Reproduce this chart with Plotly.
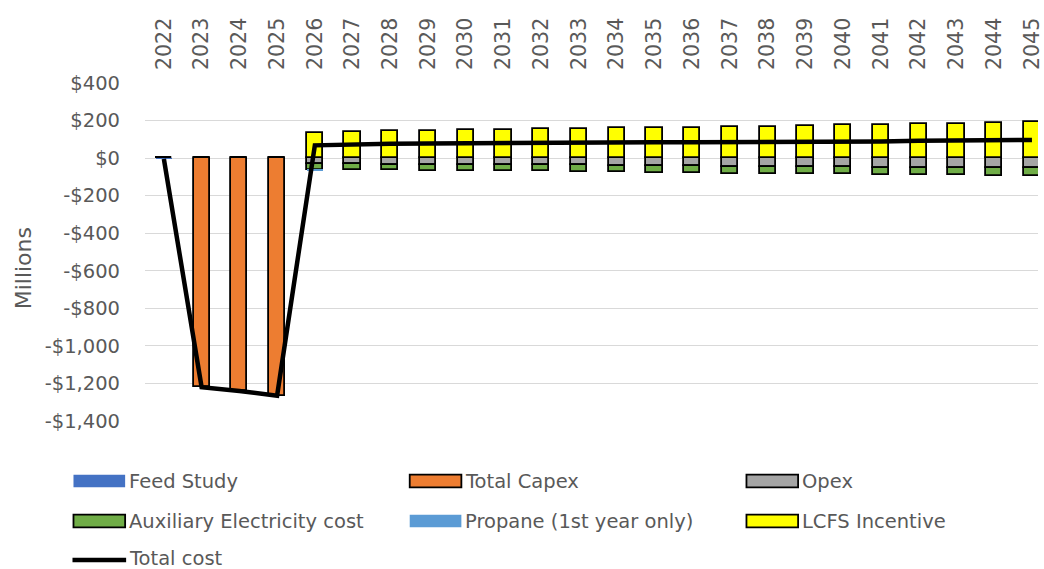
import plotly.graph_objects as go

# ---- data (USD millions) ----
years = [str(y) for y in range(2022, 2046)]

feed_study = [-4] + [0] * 23
total_capex = [0, -1220, -1240, -1265] + [0] * 20
opex = [0, 0, 0, 0,
        -32, -33, -34, -35, -36, -37, -38, -39, -41, -42,
        -44, -46, -47, -48, -49, -50, -51, -52, -54, -55]
aux_electricity = [0, 0, 0, 0,
                   -30, -31, -31, -32, -32, -33, -33, -34, -34, -35,
                   -35, -36, -36, -37, -37, -38, -38, -39, -40, -41]
propane = [0, 0, 0, 0, -3] + [0] * 19
lcfs_incentive = [0, 0, 0, 0,
                  133, 138, 142, 145, 148, 151, 153, 155, 158, 161,
                  163, 166, 168, 172, 175, 177, 181, 184, 189, 193]
total_cost = [sum(v) for v in zip(feed_study, total_capex, opex,
                                  aux_electricity, propane, lcfs_incentive)]

y_tick_vals = [400, 200, 0, -200, -400, -600, -800, -1000, -1200, -1400]
y_tick_text = ["$400", "$200", "$0", "-$200", "-$400", "-$600", "-$800",
               "-$1,000", "-$1,200", "-$1,400"]

# ---- styling ----
W, H = 1044, 569
ML, MR, MT, MB = 145, 0, 83, 148
FONT = "DejaVu Sans"
TXT = "#595959"

series = [
    ("Feed Study", feed_study, "#4472C4", None),
    ("Total Capex", total_capex, "#ED7D31", "#000000"),
    ("Opex", opex, "#A5A5A5", "#000000"),
    ("Auxiliary Electricity cost", aux_electricity, "#70AD47", "#000000"),
    ("Propane (1st year only)", propane, "#5B9BD5", None),
    ("LCFS Incentive", lcfs_incentive, "#FFFF00", "#000000"),
]

fig = go.Figure()
for name, vals, color, edge in series:
    fig.add_trace(go.Bar(
        x=years, y=vals, name=name, width=0.43,
        marker=dict(color=color,
                    line=dict(color=edge or color, width=1.8 if edge else 0)),
        showlegend=False,
    ))

fig.add_trace(go.Scatter(
    x=years, y=total_cost, name="Total cost", mode="lines",
    line=dict(color="#000000", width=4.5), showlegend=False,
))

plot_w = W - ML - MR
plot_h = H - MT - MB


def px_x(px):
    return (px - ML) / plot_w


def px_y(py):
    return (H - MB - py) / plot_h


# legend drawn as wide swatches with labels, three columns
legend_items = [
    ("Feed Study", "#4472C4", None, 73, 481),
    ("Total Capex", "#ED7D31", "#000000", 411.5, 481),
    ("Opex", "#A5A5A5", "#000000", 750.5, 481),
    ("Auxiliary Electricity cost", "#70AD47", "#000000", 73, 521),
    ("Propane (1st year only)", "#5B9BD5", None, 411.5, 521),
    ("LCFS Incentive", "#FFFF00", "#000000", 750.5, 521),
]
shapes = []
annotations = []
for label, color, edge, sx, sy in legend_items:
    shapes.append(dict(
        type="rect", xref="paper", yref="paper",
        x0=px_x(sx), x1=px_x(sx + 52), y0=px_y(sy + 6.3), y1=px_y(sy - 6.3),
        fillcolor=color,
        line=dict(color=edge or color, width=1.8 if edge else 0),
    ))
    annotations.append(dict(
        text=label, xref="paper", yref="paper", x=px_x(sx + 55), y=px_y(sy),
        xanchor="left", yanchor="middle", showarrow=False, borderpad=0,
        font=dict(family=FONT, size=19.5, color=TXT),
    ))
shapes.append(dict(
    type="line", xref="paper", yref="paper",
    x0=px_x(72), x1=px_x(126), y0=px_y(560), y1=px_y(560),
    line=dict(color="#000000", width=4.5),
))
annotations.append(dict(
    text="Total cost", xref="paper", yref="paper", x=px_x(128), y=px_y(558),
    xanchor="left", yanchor="middle", showarrow=False, borderpad=0,
    font=dict(family=FONT, size=19.5, color=TXT),
))
annotations.append(dict(
    text="Millions", xref="paper", yref="paper", x=px_x(22.5), y=px_y(268),
    xanchor="center", yanchor="middle", textangle=-90, showarrow=False,
    font=dict(family=FONT, size=22, color=TXT),
))

fig.update_layout(
    width=W, height=H,
    margin=dict(l=ML, r=MR, t=MT, b=MB, pad=0),
    barmode="relative", bargap=0,
    plot_bgcolor="white", paper_bgcolor="white",
    showlegend=False,
    shapes=shapes, annotations=annotations,
    font=dict(family=FONT, color=TXT),
    xaxis=dict(
        type="category", side="top", range=[-0.5, 23.16],
        tickangle=-90, ticks="", showgrid=False, showline=False,
        zeroline=False, ticklabelstandoff=12,
        tickfont=dict(family=FONT, size=20.5, color=TXT),
    ),
    yaxis=dict(
        range=[-1400, 400], tickvals=y_tick_vals, ticktext=y_tick_text,
        showgrid=True, gridcolor="#D9D9D9", gridwidth=1.4,
        zeroline=False, showline=False, ticks="",
        ticklabelstandoff=24,
        tickfont=dict(family=FONT, size=19.5, color=TXT),
    ),
)

fig.write_html("out.html", config={"displayModeBar": False})
